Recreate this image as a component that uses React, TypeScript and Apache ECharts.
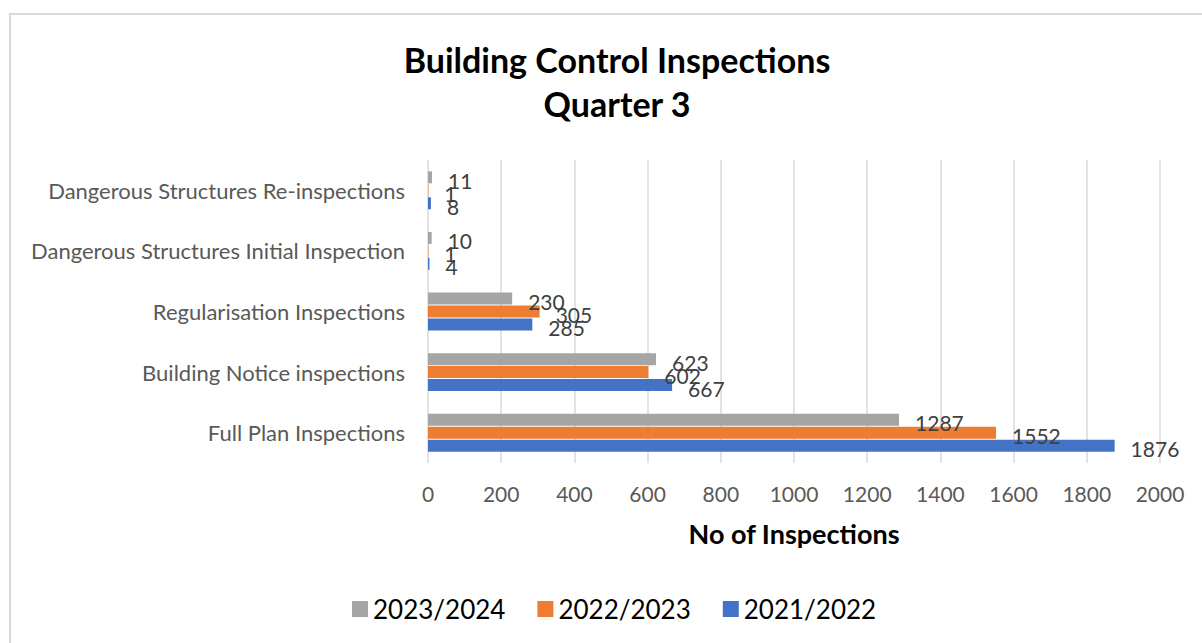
import React, { useEffect, useRef } from "react";
import * as echarts from "echarts";

const categories = [
  "Full Plan Inspections",
  "Building Notice inspections",
  "Regularisation Inspections",
  "Dangerous Structures Initial Inspection",
  "Dangerous Structures Re-inspections",
];
const series2021 = [1876, 667, 285, 4, 8];
const series2022 = [1552, 602, 305, 1, 1];
const series2023 = [1287, 623, 230, 10, 11];
const xTicks = [0, 200, 400, 600, 800, 1000, 1200, 1400, 1600, 1800, 2000];
const seriesNames = ["2023/2024", "2022/2023", "2021/2022"];
const colors = ["#A5A5A5", "#ED7D31", "#4472C4"];

const FONT = "Lato, 'Open Sans', sans-serif";

export default function App() {
  const ref = useRef<HTMLDivElement>(null);
  useEffect(() => {
    if (!ref.current) return;
    const chart = echarts.init(ref.current, undefined, { renderer: "svg" });
    const values = [series2023, series2022, series2021];
    chart.setOption({
      animation: false,
      backgroundColor: "#ffffff",
      textStyle: { fontFamily: FONT },
      graphic: [
        {
          type: "rect",
          shape: { x: 10, y: 14, width: 1300, height: 700 },
          style: { fill: "none", stroke: "#d9d9d9", lineWidth: 2 },
          silent: true,
        },
      ],
      title: {
        text: "Building Control Inspections\nQuarter 3",
        left: 612,
        textAlign: "center",
        top: 32,
        textStyle: {
          fontFamily: FONT,
          fontSize: 34,
          fontWeight: "bold",
          lineHeight: 44,
          color: "#000000",
        },
      },
      legend: {
        data: seriesNames,
        bottom: 16,
        left: 347,
        itemWidth: 16,
        itemHeight: 16,
        itemGap: 32,
        icon: "rect",
        textStyle: { fontFamily: FONT, fontSize: 26, color: "#000000" },
      },
      grid: { left: 428, right: 42, top: 160, bottom: 180, containLabel: false },
      xAxis: {
        type: "value",
        min: xTicks[0],
        max: xTicks[xTicks.length - 1],
        interval: xTicks[1] - xTicks[0],
        axisLine: { show: false },
        axisTick: { show: false },
        splitLine: { show: true, lineStyle: { color: "#d9d9d9", width: 1.5 } },
        axisLabel: {
          fontFamily: FONT,
          fontSize: 21,
          color: "#595959",
          margin: 20,
          formatter: (v: number) => String(v),
        },
        name: "No of Inspections",
        nameLocation: "middle",
        nameGap: 57,
        nameTextStyle: { fontFamily: FONT, fontSize: 27, fontWeight: "bold", color: "#000000" },
      },
      yAxis: {
        type: "category",
        data: categories,
        axisLine: { show: false },
        axisTick: { show: false },
        axisLabel: { fontFamily: FONT, fontSize: 22, color: "#595959", margin: 23 },
      },
      series: seriesNames.map((name, i) => ({
        name,
        type: "bar",
        data: values[i],
        barWidth: 12,
        barGap: "8%",
        itemStyle: { color: colors[i] },
        label: {
          show: true,
          position: "right",
          distance: 16,
          offset: [0, 3],
          fontFamily: FONT,
          fontSize: 21,
          color: "#404040",
        },
      })),
    });
    return () => chart.dispose();
  }, []);
  return (
    <div
      ref={ref}
      style={{ position: "fixed", left: 0, top: 0, width: 1202, height: 643 }}
    />
  );
}
